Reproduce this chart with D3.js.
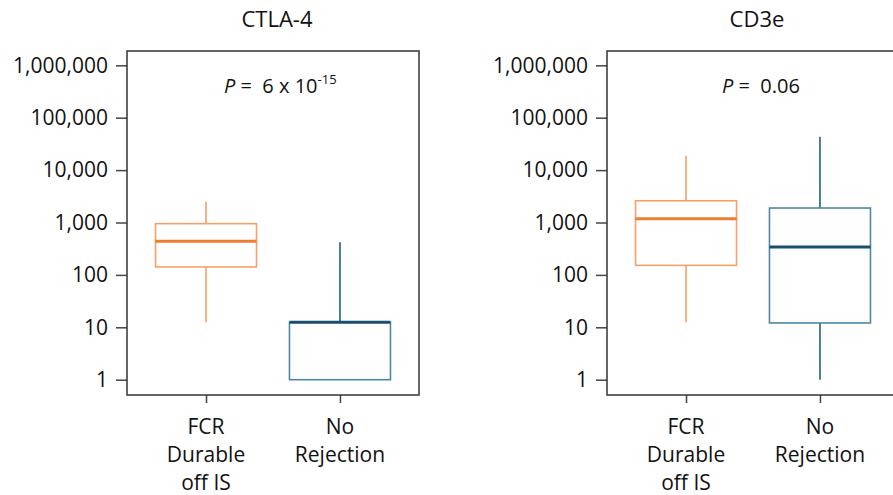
<!DOCTYPE html>
<html>
<head>
<meta charset="utf-8">
<script src="https://cdn.jsdelivr.net/npm/d3@7"></script>
<style>
  html, body { margin: 0; padding: 0; background: #fff; }
  svg { display: block; }
  text { font-family: "Open Sans", "Noto Sans", sans-serif; fill: #111; }
</style>
</head>
<body>
<svg id="chart" width="893" height="495"></svg>
<script>
// ---- data ----
const panelTitles = ["CTLA-4", "CD3e"];
const categories = [["FCR", "Durable", "off IS"], ["No", "Rejection"]];
const yTickValues = [1, 10, 100, 1000, 10000, 100000, 1000000];
// box stats: [whiskerLow, q1, median, q3, whiskerHigh]
const ctla4FCR = [12.5, 142, 438, 950, 2500];
const ctla4NoRej = [1, 1, 12.5, 12.5, 419];
const cd3eFCR = [12.5, 152, 1180, 2600, 18800];
const cd3eNoRej = [1, 12.1, 341, 1890, 43400];
const pMain = ["6 x 10", "0.06"];
const pSup = ["-15", ""];

// ---- layout ----
const W = 893, H = 495;
const frame = { top: 51, bottom: 395, width: 292 };
const panelLefts = [127, 607];
const pTextX = [224, 722];
const colors = [
  { box: "#F4A167", med: "#ED7D31", whisk: "#F3A06A" },
  { box: "#4E88A6", med: "#174F6D", whisk: "#20607F" }
];
const panelData = [[ctla4FCR, ctla4NoRej], [cd3eFCR, cd3eNoRej]];

const svg = d3.select("#chart");

const y = d3.scaleLog()
  .domain([Math.pow(10, -0.292), Math.pow(10, 6.273)])
  .range([frame.bottom, frame.top]);

panelTitles.forEach((title, pi) => {
  const left = panelLefts[pi];
  const g = svg.append("g");
  const x = d3.scalePoint()
    .domain(d3.range(categories.length))
    .range([left, left + frame.width])
    .padding(0.59);
  const boxW = 101;

  // y axis
  const yAxis = d3.axisLeft(y)
    .tickValues(yTickValues)
    .tickFormat(d3.format(","))
    .tickSize(11)
    .tickPadding(8);
  const ya = g.append("g").attr("transform", `translate(${left},0)`).call(yAxis);
  ya.select(".domain").remove();
  ya.selectAll(".tick line").attr("stroke", "#444").attr("stroke-width", 1.5);
  ya.selectAll(".tick text").style("font-size", "21px").attr("fill", "#111")
    .style("font-family", '"Open Sans", sans-serif');

  // x axis ticks
  const xAxis = d3.axisBottom(x).tickSize(8).tickFormat("");
  const xa = g.append("g").attr("transform", `translate(0,${frame.bottom})`).call(xAxis);
  xa.select(".domain").remove();
  xa.selectAll(".tick line").attr("stroke", "#444").attr("stroke-width", 1.5);

  // category labels
  categories.forEach((lines, ci) => {
    const t = g.append("text")
      .attr("x", x(ci))
      .attr("y", 433.5)
      .attr("text-anchor", "middle")
      .style("font-size", "21px");
    lines.forEach((ln, li) => {
      t.append("tspan").attr("x", x(ci)).attr("dy", li === 0 ? 0 : 28).text(ln);
    });
  });

  // frame
  g.append("rect")
    .attr("x", left).attr("y", frame.top)
    .attr("width", frame.width).attr("height", frame.bottom - frame.top)
    .attr("fill", "none").attr("stroke", "#333").attr("stroke-width", 1.5);

  // boxes
  panelData[pi].forEach((s, ci) => {
    const c = colors[ci];
    const cx = x(ci);
    g.append("line").attr("x1", cx).attr("x2", cx)
      .attr("y1", y(s[3])).attr("y2", y(s[4]))
      .attr("stroke", c.whisk).attr("stroke-width", 1.6);
    g.append("line").attr("x1", cx).attr("x2", cx)
      .attr("y1", y(s[1])).attr("y2", y(s[0]))
      .attr("stroke", c.whisk).attr("stroke-width", 1.6);
    g.append("rect")
      .attr("x", cx - boxW / 2).attr("y", y(s[3]))
      .attr("width", boxW).attr("height", y(s[1]) - y(s[3]))
      .attr("fill", "none").attr("stroke", c.box).attr("stroke-width", 1.6);
    g.append("line")
      .attr("x1", cx - boxW / 2).attr("x2", cx + boxW / 2)
      .attr("y1", y(s[2])).attr("y2", y(s[2]))
      .attr("stroke", c.med).attr("stroke-width", 3);
  });

  // title
  g.append("text")
    .attr("x", left + 150).attr("y", 27)
    .attr("text-anchor", "middle")
    .style("font-size", "22px")
    .text(title);

  // p-value
  const pt = g.append("text")
    .attr("x", pTextX[pi]).attr("y", 92.7)
    .style("font-size", "20px")
    .attr("xml:space", "preserve")
    .style("white-space", "pre");
  pt.append("tspan").style("font-style", "italic").text("P");
  pt.append("tspan").text(" =  " + pMain[pi]);
  if (pSup[pi]) {
    pt.append("tspan").attr("dy", -9).style("font-size", "13px").text(pSup[pi]);
  }
});
</script>
</body>
</html>
